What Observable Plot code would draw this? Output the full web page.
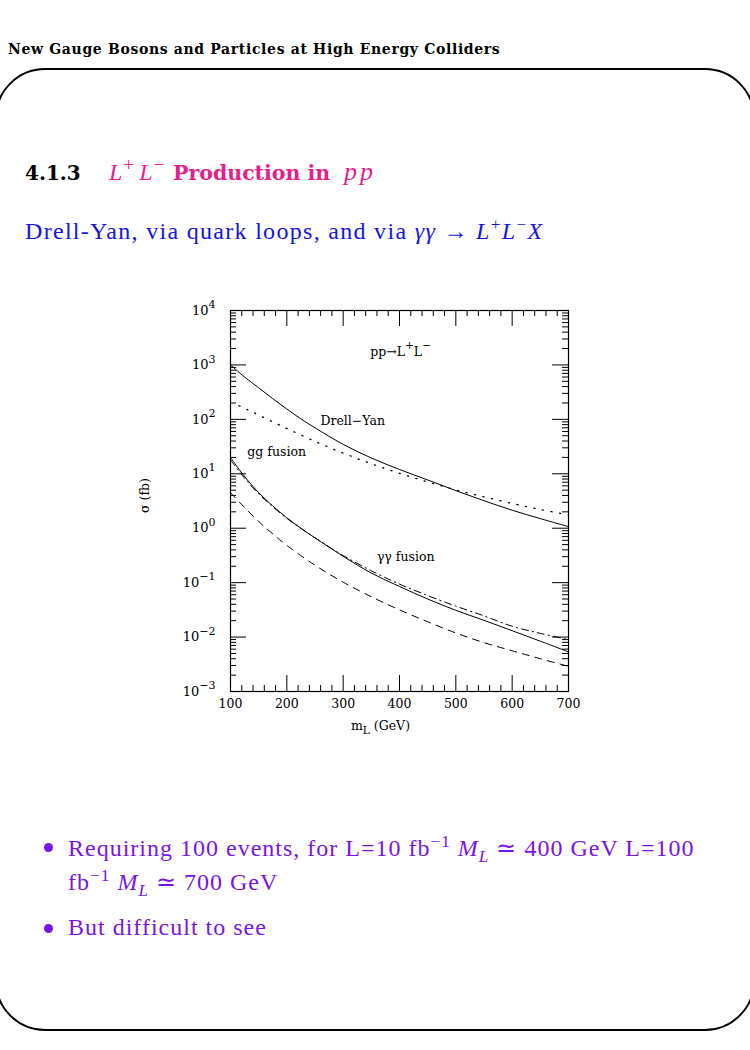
<!DOCTYPE html>
<html>
<head>
<meta charset="utf-8">
<script src="https://cdn.jsdelivr.net/npm/d3@7"></script>
<script src="https://cdn.jsdelivr.net/npm/@observablehq/plot@0.6"></script>
<style>
  html, body { margin: 0; padding: 0; background: #fff; }
  body { width: 750px; height: 1050px; position: relative; overflow: hidden; }
  .abs { position: absolute; white-space: nowrap; line-height: 1; }
  #header { left: 8px; top: 41px; font: bold 14px "DejaVu Serif"; letter-spacing: 0.65px; color: #000; }
  #frame { position: absolute; left: -5px; top: 68px; width: 760px; height: 963px; box-sizing: border-box;
           border: 2.5px solid #000; border-radius: 50px; }
  #title { left: 25px; top: 157px; color: #e61e8c; }
  #title span, #title i { display: inline-block; }
  #title .num { color: #000; font: bold 20px "DejaVu Serif"; width: 84px; }
  #title .ll { font: italic 24px "Liberation Serif"; width: 64px; }
  #title .ll sup { margin: 0 5px 0 1px; font-style: normal; font-size: 0.8em; }
  #title .prod { font: bold 20.5px "DejaVu Serif"; width: 171px; }
  #title .pp { font: italic 26px "Liberation Serif"; letter-spacing: 3px; }
  #subtitle { left: 25px; top: 218px; font: 24px "Liberation Serif"; letter-spacing: 1.3px; color: #1414e6; }
  .bullet { font: 24px "Liberation Serif"; letter-spacing: 1.0px; color: #7a14e6; }
  .dot { position: absolute; width: 9px; height: 9px; border-radius: 50%; background: #7a14e6; }
  sup, sub { font-size: 0.72em; line-height: 0; }
  #chart { position: absolute; left: 0; top: 270px; }
</style>
</head>
<body>
<div id="header" class="abs">New Gauge Bosons and Particles at High Energy Colliders</div>
<div id="frame"></div>
<div id="title" class="abs"><span class="num">4.1.3</span><span class="ll">L<sup>+</sup>L<sup>−</sup></span><span class="prod">Production in</span><i class="pp">pp</i></div>
<div id="subtitle" class="abs">Drell-Yan, via quark loops, and via <i>γγ</i> → <i>L</i><sup>+</sup><i>L</i><sup>−</sup><i>X</i></div>
<div id="chart"></div>
<div class="dot" style="left:44px;top:843px"></div>
<div class="bullet abs" style="left:68px;top:834px">Requiring 100 events, for L=10 fb<sup>−1</sup> <i>M<sub>L</sub></i> ≃ 400 GeV L=100</div>
<div class="bullet abs" style="left:68px;top:868px">fb<sup>−1</sup> <i>M<sub>L</sub></i> ≃ 700 GeV</div>
<div class="dot" style="left:44px;top:924px"></div>
<div class="bullet abs" style="left:68px;top:914px">But difficult to see</div>

<script>
// ---- data (m_L in GeV, sigma in fb) ----
const massDrellYan  = [100, 125, 150, 175, 200, 225, 250, 300, 350, 400, 450, 500, 550, 600, 650, 700];
const sigmaDrellYan = [1000, 600, 380, 240, 155, 102, 70, 34.7, 19.5, 12, 7.7, 4.9, 3.2, 2.14, 1.5, 1.07];

const massGG  = [115, 130, 150, 175, 200, 250, 300, 350, 400, 450, 500, 550, 600, 650, 700];
const sigmaGG = [178, 151, 120, 90, 68, 39.4, 24, 15.3, 10.2, 7.1, 5.07, 3.76, 2.85, 2.21, 1.76];

const massGamma  = [100, 115, 130, 150, 175, 200, 225, 250, 300, 350, 400, 450, 500, 550, 600, 650, 700];
const sigmaGamma = [20, 12.1, 7.7, 4.5, 2.57, 1.55, 1.0, 0.665, 0.305, 0.150, 0.085, 0.050, 0.031, 0.0203, 0.0131, 0.0084, 0.00535];

const massGammaDashDot  = [100, 115, 130, 150, 175, 200, 225, 250, 300, 350, 400, 450, 500, 550, 600, 650, 700];
const sigmaGammaDashDot = [18, 11.2, 7.2, 4.3, 2.48, 1.52, 0.99, 0.665, 0.315, 0.165, 0.094, 0.058, 0.037, 0.0245, 0.0158, 0.0117, 0.0090];

const massGammaDashed  = [100, 125, 150, 175, 200, 250, 300, 350, 400, 450, 500, 550, 600, 650, 700];
const sigmaGammaDashed = [4.5, 2.4, 1.33, 0.785, 0.484, 0.209, 0.102, 0.055, 0.0316, 0.0191, 0.0119, 0.0079, 0.0056, 0.0040, 0.0029];

const xTicks = [100, 200, 300, 400, 500, 600, 700];
const yTicks = [1e-3, 1e-2, 1e-1, 1e0, 1e1, 1e2, 1e3, 1e4];

const annotationText = ["pp→L^{+}L^{−}", "Drell−Yan", "gg fusion", "γγ fusion"];
const annotationMass = [402, 317, 182, 411];
const annotationSigma = [1750, 95, 25.5, 0.29];

// ---- build tables ----
const toRows = (ms, ss) => ms.map((m, i) => ({m, s: ss[i]}));
const dy = toRows(massDrellYan, sigmaDrellYan);
const gg = toRows(massGG, sigmaGG);
const ga = toRows(massGamma, sigmaGamma);
const gd = toRows(massGammaDashDot, sigmaGammaDashDot);
const gs = toRows(massGammaDashed, sigmaGammaDashed);
const notes = annotationText.map((t, i) => ({t, m: annotationMass[i], s: annotationSigma[i]}));

const xMinor = d3.range(100, 701, 20).filter(v => v % 100 !== 0);
const yMinor = [];
for (let e = -3; e < 4; e++) for (let k = 2; k <= 9; k++) yMinor.push(k * Math.pow(10, e));

const W = 750, H = 470, mL = 230, mR = 182, mT = 40, mB = 49;
const fw = W - mL - mR, fh = H - mT - mB;
const major = 16, minor = 6;

const supFmt = d => "10^{" + String(Math.round(Math.log10(d))).replace("-", "−") + "}";

const chart = Plot.plot({
  width: W, height: H,
  marginLeft: mL, marginRight: mR, marginTop: mT, marginBottom: mB,
  style: {fontFamily: "DejaVu Serif", fontSize: "12px", background: "white", color: "black"},
  x: {domain: [100, 700], axis: null},
  y: {type: "log", domain: [1e-3, 1e4], axis: null},
  marks: [
    Plot.frame({stroke: "black", strokeWidth: 1.2}),
    // bottom / top ticks
    Plot.tickX(xTicks, {x: d => d, insetTop: fh - major, stroke: "black"}),
    Plot.tickX(xTicks, {x: d => d, insetBottom: fh - major, stroke: "black"}),
    Plot.tickX(xMinor, {x: d => d, insetTop: fh - minor, stroke: "black"}),
    Plot.tickX(xMinor, {x: d => d, insetBottom: fh - minor, stroke: "black"}),
    // left / right ticks
    Plot.tickY(yTicks, {y: d => d, insetRight: fw - major, stroke: "black"}),
    Plot.tickY(yTicks, {y: d => d, insetLeft: fw - major, stroke: "black"}),
    Plot.tickY(yMinor, {y: d => d, insetRight: fw - minor, stroke: "black"}),
    Plot.tickY(yMinor, {y: d => d, insetLeft: fw - minor, stroke: "black"}),
    Plot.axisX(xTicks, {tickSize: 0, tickPadding: 8, tickFormat: d => String(d), fontSize: 12.5, label: null}),
    Plot.axisY(yTicks, {tickSize: 0, tickPadding: 15, tickFormat: supFmt, fontSize: 13, label: null}),
    // curves
    Plot.line(dy, {x: "m", y: "s", stroke: "black", strokeWidth: 1, curve: "catmull-rom"}),
    Plot.line(gg, {x: "m", y: "s", stroke: "black", strokeWidth: 1.3, strokeDasharray: "1.2,7.5", curve: "catmull-rom"}),
    Plot.line(ga, {x: "m", y: "s", stroke: "black", strokeWidth: 1, curve: "catmull-rom"}),
    Plot.line(gd, {x: "m", y: "s", stroke: "black", strokeWidth: 1, strokeDasharray: "7,4,1.3,4", curve: "catmull-rom"}),
    Plot.line(gs, {x: "m", y: "s", stroke: "black", strokeWidth: 1, strokeDasharray: "7,6", curve: "catmull-rom"}),
    // annotations
    Plot.text(notes, {x: "m", y: "s", text: "t", fontSize: 12.5, fill: "black"}),
    // axis titles
    Plot.text(["σ (fb)"], {frameAnchor: "left", dx: -86, dy: 12, rotate: -90, fontSize: 12.5, fill: "black"}),
    Plot.text(["m_{L} (GeV)"], {frameAnchor: "bottom", dx: -19, dy: 38, fontSize: 12.5, fill: "black"})
  ]
});

// turn ^{..} / _{..} markup into SVG super/subscripts
function richify(svg) {
  d3.select(svg).selectAll("text").each(function () {
    const t = this.textContent;
    if (!/[\^_]\{/.test(t)) return;
    const sel = d3.select(this);
    sel.text(null);
    const re = /([\^_])\{([^}]*)\}|([^\^_]+)/g;
    let m, shift = 0;
    while ((m = re.exec(t))) {
      if (m[3]) {
        sel.append("tspan").attr("dy", -shift).text(m[3]);
        shift = 0;
      } else {
        const s = m[1] === "^" ? -6.5 : 4;
        sel.append("tspan").attr("dy", s - shift).style("font-size", "0.85em").text(m[2]);
        shift = s;
      }
    }
  });
}
richify(chart);
document.getElementById("chart").appendChild(chart);
</script>
</body>
</html>
